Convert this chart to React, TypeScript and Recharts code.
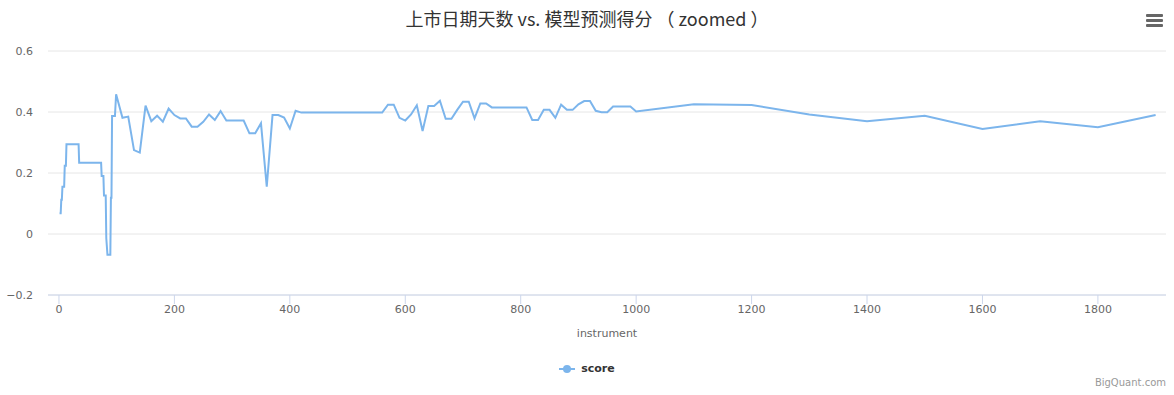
import { LineChart, Line, XAxis, YAxis, CartesianGrid, Legend } from 'recharts'

// listing age (days) vs. model score
const days = [
  1, 3, 4, 5, 6, 9, 10, 12, 13, 34, 35, 73, 74, 77, 78, 81, 82, 84, 89, 90, 91, 92, 97, 99,
  110, 120, 130, 140, 150, 160, 170, 180, 190, 200, 210, 220, 230, 240, 250, 260, 270, 280,
  290, 320, 330, 340, 350, 360, 370, 380, 390, 400, 410, 420, 560, 570, 580, 590, 600, 610,
  620, 630, 640, 650, 660, 670, 680, 690, 700, 710, 720, 730, 740, 750, 810, 820, 830, 840,
  850, 860, 870, 880, 890, 900, 910, 920, 930, 940, 950, 960, 990, 1000, 1100, 1200, 1300,
  1400, 1500, 1600, 1700, 1800, 1900,
]
const scores = [
  0.068, 0.068, 0.112, 0.112, 0.155, 0.155, 0.224, 0.224, 0.294, 0.294, 0.234, 0.234, 0.19,
  0.19, 0.126, 0.126, -0.014, -0.068, -0.068, 0.119, 0.119, 0.387, 0.387, 0.458, 0.381, 0.385,
  0.275, 0.267, 0.421, 0.37, 0.388, 0.368, 0.411, 0.39, 0.379, 0.379, 0.352, 0.352, 0.368,
  0.392, 0.374, 0.403, 0.372, 0.372, 0.33, 0.33, 0.363, 0.155, 0.39, 0.39, 0.382, 0.346,
  0.404, 0.398, 0.398, 0.424, 0.424, 0.381, 0.372, 0.392, 0.422, 0.338, 0.42, 0.42, 0.437,
  0.378, 0.378, 0.407, 0.434, 0.434, 0.379, 0.428, 0.428, 0.415, 0.415, 0.374, 0.374, 0.407,
  0.407, 0.381, 0.424, 0.407, 0.407, 0.425, 0.436, 0.436, 0.404, 0.399, 0.399, 0.418, 0.418,
  0.402, 0.425, 0.423, 0.392, 0.37, 0.388, 0.344, 0.37, 0.35, 0.39,
]
const xTicks = [0, 200, 400, 600, 800, 1000, 1200, 1400, 1600, 1800]
const yTicks = [-0.2, 0, 0.2, 0.4, 0.6]

const data = days.map((d, i) => ({ instrument: d, score: scores[i] }))

const FONT = '"DejaVu Sans", sans-serif'
const LINE_COLOR = '#7cb5ec'

function ScoreLegend() {
  return (
    <div style={{ display: 'flex', justifyContent: 'center', alignItems: 'center', fontFamily: FONT }}>
      <svg width={16} height={12} style={{ marginRight: 6 }}>
        <line x1={0} y1={6} x2={16} y2={6} stroke={LINE_COLOR} strokeWidth={2} />
        <circle cx={8} cy={6} r={4} fill={LINE_COLOR} />
      </svg>
      <span style={{ fontSize: 11, fontWeight: 700, color: '#333' }}>score</span>
    </div>
  )
}

export default function App() {
  return (
    <div style={{ position: 'relative', width: 1174, height: 395, background: '#fff' }}>
      <style>{`body { margin: 0; }`}</style>
      <div
        style={{
          position: 'absolute',
          top: 5,
          left: 0,
          width: 1174,
          textAlign: 'center',
          fontFamily: '"Noto Sans CJK SC", sans-serif',
          fontSize: 18,
          color: '#333',
        }}
      >
        上市日期天数 vs. 模型预测得分 （ zoomed ）
      </div>
      {/* export menu icon */}
      <div style={{ position: 'absolute', left: 1146, top: 14, width: 17 }}>
        {[0, 1, 2].map((k) => (
          <div key={k} style={{ height: 3, background: '#666', marginBottom: 2, borderRadius: 1 }} />
        ))}
      </div>
      <LineChart
        width={1174}
        height={395}
        data={data}
        margin={{ top: 51, right: 8, bottom: 56, left: 0 }}
      >
        <CartesianGrid vertical={false} stroke="#e6e6e6" />
        <XAxis
          dataKey="instrument"
          type="number"
          domain={[-19, 1918]}
          ticks={xTicks}
          allowDataOverflow
          height={44}
          stroke="#ccd6eb"
          tickSize={9}
          tickMargin={1}
          tick={{ fill: '#666', fontSize: 11, fontFamily: FONT }}
          label={{
            value: 'instrument',
            position: 'insideBottom',
            offset: 2,
            fill: '#666',
            fontSize: 11,
            fontFamily: FONT,
          }}
        />
        <YAxis
          type="number"
          domain={[-0.2, 0.6]}
          ticks={yTicks}
          width={48}
          axisLine={false}
          tickLine={false}
          tickSize={6}
          tickMargin={9}
          tickFormatter={(v: number) => (v < 0 ? '−' + Math.abs(v) : String(v))}
          tick={{ fill: '#666', fontSize: 11, fontFamily: FONT }}
        />
        <Legend
          layout="horizontal"
          verticalAlign="middle"
          align="center"
          content={() => <ScoreLegend />}
          wrapperStyle={{ position: 'absolute', top: 362, left: 0, width: 1174 }}
        />
        <Line
          type="linear"
          dataKey="score"
          stroke={LINE_COLOR}
          strokeWidth={2}
          dot={false}
          isAnimationActive={false}
        />
      </LineChart>
      <div
        style={{
          position: 'absolute',
          right: 8,
          top: 377,
          fontFamily: FONT,
          fontSize: 10,
          color: '#999',
        }}
      >
        BigQuant.com
      </div>
    </div>
  )
}
